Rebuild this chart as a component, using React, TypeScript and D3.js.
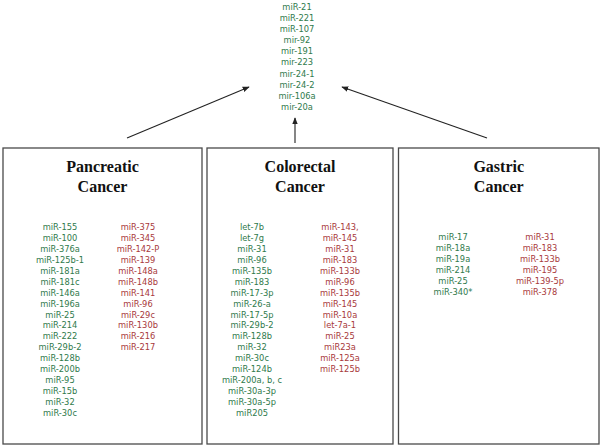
import React from "react";
import * as d3 from "d3";

const commonMiRs = ["miR-21", "miR-221", "miR-107", "mir-92", "mir-191", "mir-223", "mir-24-1", "mir-24-2", "mir-106a", "mir-20a"];

const cancers = ["Pancreatic", "Colorectal", "Gastric"];

const pancreaticUp = ["miR-155", "miR-100", "miR-376a", "miR-125b-1", "miR-181a", "miR-181c", "miR-146a", "miR-196a", "miR-25", "miR-214", "miR-222", "miR-29b-2", "miR-128b", "miR-200b", "miR-95", "miR-15b", "miR-32", "miR-30c"];
const pancreaticDown = ["miR-375", "miR-345", "miR-142-P", "miR-139", "miR-148a", "miR-148b", "miR-141", "miR-96", "miR-29c", "miR-130b", "miR-216", "miR-217"];

const colorectalUp = ["let-7b", "let-7g", "miR-31", "miR-96", "miR-135b", "miR-183", "miR-17-3p", "miR-26-a", "miR-17-5p", "miR-29b-2", "miR-128b", "miR-32", "miR-30c", "miR-124b", "miR-200a, b, c", "miR-30a-3p", "miR-30a-5p", "miR205"];
const colorectalDown = ["miR-143,", "miR-145", "miR-31", "miR-183", "miR-133b", "miR-96", "miR-135b", "miR-145", "miR-10a", "let-7a-1", "miR-25", "miR23a", "miR-125a", "miR-125b"];

const gastricUp = ["miR-17", "miR-18a", "miR-19a", "miR-214", "miR-25", "miR-340*"];
const gastricDown = ["miR-31", "miR-183", "miR-133b", "miR-195", "miR-139-5p", "miR-378"];

const GREEN = "#2f7a4c";
const RED = "#a8393b";
const FONT = "'DejaVu Sans', Verdana, sans-serif";

const boxes = [
  { x0: 3, x1: 202, up: pancreaticUp, down: pancreaticDown, upX: 60, downX: 138, startY: 227 },
  { x0: 207, x1: 393, up: colorectalUp, down: colorectalDown, upX: 252, downX: 340, startY: 227 },
  { x0: 398.5, x1: 599, up: gastricUp, down: gastricDown, upX: 453, downX: 540, startY: 237 },
];

const arrows = [
  { x1: 127, y1: 138, x2: 249, y2: 87 },
  { x1: 295, y1: 143, x2: 295, y2: 118 },
  { x1: 487, y1: 138, x2: 342, y2: 87 },
];

export default function App() {
  const rowStep = 10.95;
  const topY = d3.scaleLinear().domain([0, 1]).range([7, 18.1]);
  const line = d3.line<[number, number]>();

  return (
    <svg width={601} height={448} style={{ position: "absolute", left: 0, top: 0, background: "#fff" }}>
      <defs>
        <marker id="ah" viewBox="0 0 10 10" refX="9" refY="5" markerWidth="7" markerHeight="7" orient="auto" markerUnits="userSpaceOnUse">
          <path d="M0,1 L10,5 L0,9 Z" fill="#222" />
        </marker>
      </defs>
      <rect width={601} height={448} fill="#fff" />
      {commonMiRs.map((t, i) => (
        <text key={t} x={297} y={topY(i)} dy="0.35em" textAnchor="middle" fontFamily={FONT} fontSize={8.3} fill={GREEN}>
          {t}
        </text>
      ))}
      {arrows.map((a, i) => (
        <path key={i} d={line([[a.x1, a.y1], [a.x2, a.y2]]) || ""} stroke="#222" strokeWidth={1.1} fill="none" markerEnd="url(#ah)" />
      ))}
      {boxes.map((b, bi) => {
        const cx = (b.x0 + b.x1) / 2;
        const y = d3.scaleLinear().domain([0, 1]).range([b.startY, b.startY + rowStep]);
        return (
          <g key={bi}>
            <rect x={b.x0} y={148} width={b.x1 - b.x0} height={296} fill="none" stroke="#4a4a4a" strokeWidth={1.3} />
            <text x={cx} y={172} textAnchor="middle" fontFamily="'Liberation Serif', 'Times New Roman', serif" fontWeight="bold" fontSize={16} fill="#111">
              {cancers[bi]}
            </text>
            <text x={cx} y={192} textAnchor="middle" fontFamily="'Liberation Serif', 'Times New Roman', serif" fontWeight="bold" fontSize={16} fill="#111">
              Cancer
            </text>
            {b.up.map((t, i) => (
              <text key={"u" + i} x={b.upX} y={y(i)} dy="0.35em" textAnchor="middle" fontFamily={FONT} fontSize={8.3} fill={GREEN}>
                {t}
              </text>
            ))}
            {b.down.map((t, i) => (
              <text key={"d" + i} x={b.downX} y={y(i)} dy="0.35em" textAnchor="middle" fontFamily={FONT} fontSize={8.3} fill={RED}>
                {t}
              </text>
            ))}
          </g>
        );
      })}
    </svg>
  );
}
